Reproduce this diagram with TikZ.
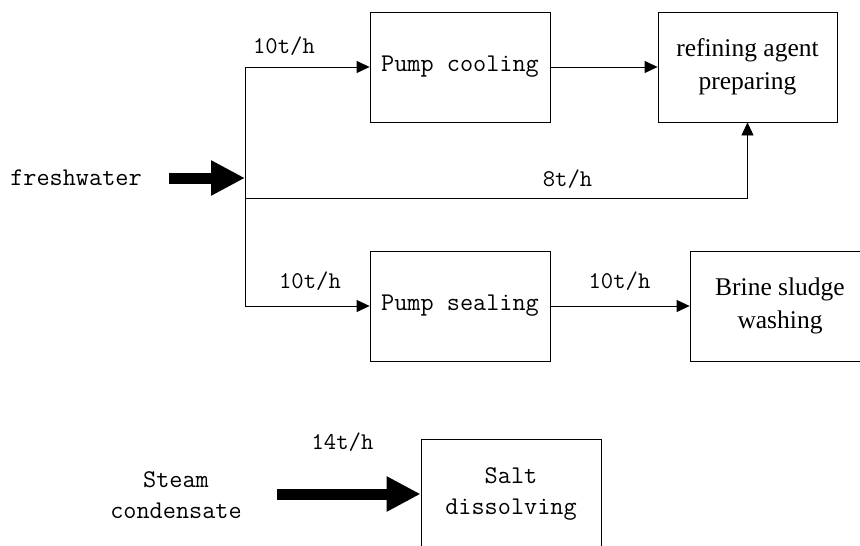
\documentclass[tikz,border=0pt]{standalone}
\usepackage{fontspec}
\setmainfont{Liberation Serif}
\usetikzlibrary{arrows.meta}
\begin{document}
\begin{tikzpicture}[x=1pt,y=-1pt,
  box/.style={draw, line width=0.8pt, minimum width=180pt, minimum height=110pt, inner sep=0pt, align=center},
  mono/.style={font=\ttfamily\fontsize{25.5}{31}\selectfont},
  serifbox/.style={font=\fontsize{25.5}{33}\selectfont},
  lbl/.style={font=\ttfamily\fontsize{24}{28}\selectfont, anchor=base, inner sep=0pt},
  flow/.style={line width=0.8pt, -{Triangle[length=13pt,width=12pt]}},
  bigarrow/.style={line width=11pt, -{Triangle[length=34pt,width=33pt]}}
]
\clip (0,0) rectangle (860,546);
% boxes
\node[box, mono] (pc) at (460,67) {Pump cooling};
\node[box, serifbox, minimum width=179pt] (rf) at (747.5,67) {refining agent\\preparing};
\node[box, mono] (ps) at (460,306) {Pump sealing};
\node[box, serifbox] (bs) at (780,306) {Brine sludge\\washing};
\node[box, mono] (sd) at (511,494) {Salt\\dissolving};
% inputs
\node[mono, anchor=base, inner sep=0pt] (fw) at (76,185) {freshwater};
\node[mono, align=center, inner sep=0pt] (sc) at (176,495) {Steam\\condensate};
\coordinate (fwa) at (169,178);
\coordinate (J) at (245,178);
\coordinate (B) at (245,198);
\coordinate (sca) at (277,494);
% connectors
\draw[bigarrow] (fwa) -- (J);
\draw[flow] (J) |- (pc.west);
\draw[flow] (J) |- (ps.west);
\draw[line width=0.8pt] (J) -- (B);
\draw[flow] (B) -| (rf.south);
\draw[flow] (pc.east) -- (rf.west);
\draw[flow] (ps.east) -- (bs.west);
\draw[bigarrow] (sca) -- (sd.west);
% labels
\node[lbl] (l1) at (284,53) {10t/h};
\node[lbl] (l2) at (567.5,186) {8t/h};
\node[lbl] (l3) at (310,288) {10t/h};
\node[lbl] (l4) at (619.5,288) {10t/h};
\node[lbl] (l5) at (342.5,449) {14t/h};
\end{tikzpicture}
\end{document}
